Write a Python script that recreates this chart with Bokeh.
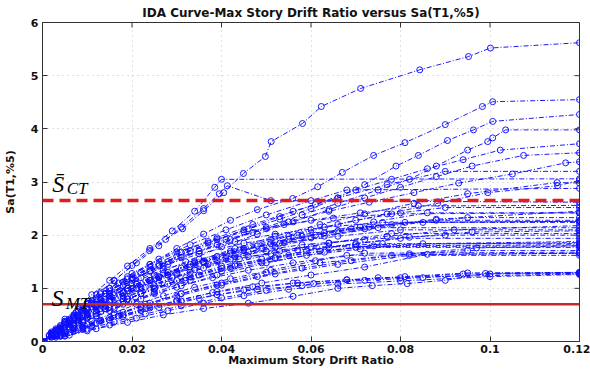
import math
from bokeh.plotting import figure
from bokeh.models import Span, Label, FixedTicker, Range1d, ColumnDataSource
from bokeh.embed import file_html
from bokeh.resources import INLINE

title_text = "IDA Curve-Max Story Drift Ratio versus Sa(T1,%5)"
x_label = "Maximum Story Drift Ratio"
y_label = "Sa(T1,%5)"
x_min, x_max = 0, 0.12
y_min, y_max = 0, 6
x_ticks = [0, 0.02, 0.04, 0.06, 0.08, 0.1, 0.12]
x_tick_labels = ["0", "0.02", "0.04", "0.06", "0.08", "0.1", "0.12"]
y_ticks = [0, 1, 2, 3, 4, 5, 6]
s_ct = 2.65
s_mt = 0.70

# IDA curves: max story drift ratio (x) vs Sa(T1,5%) (y), one pair per record
drift_a = [0, 0.002, 0.004, 0.007, 0.010, 0.013, 0.016, 0.020, 0.0239, 0.0275, 0.0313, 0.036, 0.0405, 0.0449, 0.0498, 0.0511, 0.0581, 0.0623, 0.0711, 0.0843, 0.0952, 0.1001, 0.12]
sa_a = [0, 0.15, 0.30, 0.50, 0.72, 0.93, 1.14, 1.43, 1.71, 1.92, 2.12, 2.46, 2.80, 3.16, 3.48, 3.76, 4.10, 4.42, 4.76, 5.11, 5.36, 5.52, 5.62]
drift_b = [0, 0.003, 0.006, 0.010, 0.014, 0.019, 0.024, 0.030, 0.036, 0.042, 0.048, 0.0559, 0.0615, 0.067, 0.074, 0.081, 0.090, 0.0983, 0.1006, 0.12]
sa_b = [0, 0.20, 0.40, 0.65, 0.90, 1.18, 1.45, 1.75, 2.02, 2.28, 2.48, 2.69, 2.91, 3.18, 3.50, 3.74, 4.08, 4.42, 4.51, 4.55]
drift_c = [0, 0.003, 0.006, 0.010, 0.015, 0.020, 0.026, 0.032, 0.039, 0.046, 0.053, 0.060, 0.066, 0.072, 0.079, 0.084, 0.0905, 0.0963, 0.1006, 0.12]
sa_c = [0, 0.20, 0.38, 0.62, 0.90, 1.15, 1.42, 1.68, 1.92, 2.12, 2.30, 2.50, 2.70, 2.95, 3.30, 3.50, 3.78, 3.98, 4.14, 4.27]
drift_d = [0, 0.003, 0.007, 0.011, 0.016, 0.022, 0.028, 0.035, 0.042, 0.050, 0.058, 0.066, 0.075, 0.082, 0.088, 0.095, 0.0995, 0.1006, 0.1035, 0.12]
sa_d = [0, 0.20, 0.42, 0.65, 0.92, 1.20, 1.45, 1.70, 1.92, 2.15, 2.38, 2.60, 2.85, 3.05, 3.30, 3.60, 3.76, 3.83, 3.98, 3.98]
drift_e = [0, 0.004, 0.008, 0.013, 0.018, 0.024, 0.030, 0.037, 0.045, 0.053, 0.061, 0.070, 0.078, 0.086, 0.094, 0.1023, 0.12]
sa_e = [0, 0.25, 0.50, 0.78, 1.05, 1.33, 1.60, 1.85, 2.10, 2.35, 2.58, 2.85, 3.05, 3.25, 3.42, 3.60, 3.72]
drift_f = [0, 0.004, 0.008, 0.013, 0.019, 0.025, 0.032, 0.040, 0.048, 0.056, 0.064, 0.072, 0.080, 0.088, 0.096, 0.1075, 0.12]
sa_f = [0, 0.22, 0.45, 0.72, 1.00, 1.25, 1.50, 1.78, 2.02, 2.25, 2.48, 2.70, 2.90, 3.10, 3.30, 3.50, 3.55]
drift_g = [0, 0.003, 0.007, 0.012, 0.018, 0.024, 0.031, 0.039, 0.047, 0.055, 0.064, 0.073, 0.083, 0.093, 0.105, 0.1169, 0.12]
sa_g = [0, 0.20, 0.45, 0.75, 1.05, 1.32, 1.58, 1.82, 2.05, 2.25, 2.45, 2.62, 2.80, 2.98, 3.15, 3.36, 3.38]
drift_h = [0, 0.004, 0.009, 0.015, 0.021, 0.028, 0.036, 0.045, 0.055, 0.066, 0.077, 0.0883, 0.0995, 0.1151, 0.12]
sa_h = [0, 0.22, 0.48, 0.75, 1.00, 1.25, 1.50, 1.75, 1.98, 2.20, 2.40, 2.60, 2.80, 2.93, 3.03]
drift_i = [0, 0.002, 0.005, 0.008, 0.011, 0.015, 0.019, 0.024, 0.029, 0.034, 0.0385, 0.040, 0.12]
sa_i = [0, 0.18, 0.42, 0.65, 0.88, 1.15, 1.42, 1.75, 2.08, 2.45, 2.90, 3.05, 3.06]
drift_j = [0, 0.004, 0.008, 0.013, 0.019, 0.026, 0.034, 0.043, 0.052, 0.062, 0.072, 0.083, 0.095, 0.115, 0.12]
sa_j = [0, 0.20, 0.42, 0.68, 0.95, 1.22, 1.50, 1.75, 1.98, 2.20, 2.40, 2.60, 2.78, 2.99, 2.98]
drift_k = [0, 0.002, 0.005, 0.008, 0.012, 0.016, 0.021, 0.026, 0.031, 0.036, 0.0395, 0.0413, 0.051, 0.12]
sa_k = [0, 0.16, 0.38, 0.60, 0.88, 1.15, 1.48, 1.80, 2.15, 2.50, 2.78, 2.93, 2.65, 2.62]
drift_l = [0, 0.003, 0.007, 0.012, 0.018, 0.025, 0.033, 0.042, 0.051, 0.060, 0.070, 0.080, 0.090, 0.12]
sa_l = [0, 0.18, 0.40, 0.66, 0.92, 1.18, 1.45, 1.70, 1.92, 2.10, 2.28, 2.42, 2.52, 2.52]
drift_m = [0, 0.004, 0.008, 0.013, 0.019, 0.026, 0.034, 0.043, 0.053, 0.063, 0.074, 0.086, 0.12]
sa_m = [0, 0.20, 0.40, 0.62, 0.85, 1.10, 1.35, 1.60, 1.85, 2.05, 2.25, 2.42, 2.42]
drift_n = [0, 0.003, 0.006, 0.010, 0.015, 0.021, 0.028, 0.036, 0.045, 0.055, 0.066, 0.078, 0.095, 0.12]
sa_n = [0, 0.15, 0.32, 0.52, 0.75, 1.00, 1.25, 1.50, 1.72, 1.92, 2.08, 2.20, 2.33, 2.33]
drift_o = [0, 0.004, 0.009, 0.015, 0.022, 0.030, 0.039, 0.049, 0.060, 0.072, 0.085, 0.12]
sa_o = [0, 0.22, 0.48, 0.75, 1.02, 1.28, 1.52, 1.75, 1.95, 2.12, 2.24, 2.24]
drift_p = [0, 0.003, 0.007, 0.012, 0.018, 0.025, 0.033, 0.042, 0.052, 0.063, 0.075, 0.12]
sa_p = [0, 0.14, 0.32, 0.55, 0.80, 1.05, 1.30, 1.55, 1.78, 1.98, 2.14, 2.14]
drift_q = [0, 0.004, 0.009, 0.015, 0.022, 0.030, 0.040, 0.051, 0.064, 0.078, 0.12]
sa_q = [0, 0.18, 0.40, 0.65, 0.90, 1.15, 1.42, 1.65, 1.85, 2.03, 2.03]
drift_r = [0, 0.003, 0.007, 0.012, 0.018, 0.025, 0.033, 0.042, 0.052, 0.064, 0.080, 0.12]
sa_r = [0, 0.12, 0.28, 0.48, 0.70, 0.92, 1.15, 1.38, 1.58, 1.78, 1.94, 1.94]
drift_s = [0, 0.004, 0.009, 0.015, 0.022, 0.030, 0.039, 0.050, 0.063, 0.076, 0.12]
sa_s = [0, 0.16, 0.36, 0.58, 0.80, 1.02, 1.25, 1.48, 1.68, 1.84, 1.84]
drift_t = [0, 0.003, 0.007, 0.012, 0.018, 0.025, 0.033, 0.043, 0.055, 0.070, 0.12]
sa_t = [0, 0.14, 0.30, 0.52, 0.76, 1.00, 1.22, 1.45, 1.62, 1.77, 1.77]
drift_u = [0, 0.005, 0.010, 0.016, 0.023, 0.031, 0.040, 0.050, 0.062, 0.078, 0.095, 0.12]
sa_u = [0, 0.15, 0.32, 0.50, 0.70, 0.90, 1.10, 1.30, 1.48, 1.62, 1.71, 1.71]
drift_v = [0, 0.004, 0.009, 0.015, 0.022, 0.030, 0.040, 0.052, 0.066, 0.082, 0.12]
sa_v = [0, 0.12, 0.27, 0.45, 0.65, 0.85, 1.06, 1.27, 1.45, 1.62, 1.62]
drift_w = [0, 0.002, 0.005, 0.009, 0.014, 0.020, 0.027, 0.035, 0.044, 0.054, 0.066, 0.080, 0.12]
sa_w = [0, 0.14, 0.33, 0.58, 0.85, 1.10, 1.35, 1.55, 1.72, 1.86, 1.98, 2.10, 2.10]
drift_x = [0, 0.003, 0.006, 0.010, 0.015, 0.021, 0.028, 0.036, 0.046, 0.058, 0.072, 0.090, 0.12]
sa_x = [0, 0.20, 0.40, 0.62, 0.86, 1.08, 1.30, 1.50, 1.68, 1.82, 1.92, 2.00, 2.00]
drift_y = [0, 0.002, 0.005, 0.009, 0.014, 0.020, 0.027, 0.035, 0.045, 0.057, 0.071, 0.088, 0.12]
sa_y = [0, 0.15, 0.36, 0.62, 0.90, 1.18, 1.42, 1.65, 1.85, 2.00, 2.15, 2.28, 2.28]
drift_z = [0, 0.006, 0.012, 0.019, 0.027, 0.036, 0.046, 0.056, 0.066, 0.0737, 0.0815, 0.090, 0.099, 0.12]
sa_z = [0, 0.12, 0.24, 0.36, 0.50, 0.62, 0.72, 0.85, 1.00, 1.05, 1.09, 1.15, 1.28, 1.30]
drift_aa = [0, 0.005, 0.010, 0.016, 0.023, 0.031, 0.040, 0.050, 0.0606, 0.072, 0.085, 0.100, 0.12]
sa_aa = [0, 0.11, 0.23, 0.37, 0.52, 0.67, 0.82, 0.96, 1.09, 1.15, 1.20, 1.27, 1.28]
drift_bb = [0, 0.005, 0.011, 0.018, 0.026, 0.035, 0.045, 0.056, 0.068, 0.081, 0.095, 0.12]
sa_bb = [0, 0.14, 0.30, 0.47, 0.64, 0.81, 0.97, 1.10, 1.16, 1.22, 1.29, 1.30]
drift_cc = [0, 0.004, 0.009, 0.015, 0.022, 0.030, 0.039, 0.049, 0.060, 0.072, 0.086, 0.12]
sa_cc = [0, 0.10, 0.23, 0.40, 0.58, 0.76, 0.94, 1.10, 1.25, 1.40, 1.64, 1.66]
drift_dd = [0, 0.003, 0.007, 0.012, 0.018, 0.024, 0.031, 0.039, 0.047, 0.056, 0.066, 0.077, 0.090, 0.12]
sa_dd = [0, 0.22, 0.48, 0.80, 1.12, 1.40, 1.68, 1.95, 2.20, 2.45, 2.70, 2.95, 3.20, 3.20]
drift_ee = [0, 0.003, 0.006, 0.010, 0.015, 0.020, 0.026, 0.033, 0.041, 0.050, 0.060, 0.068, 0.12]
sa_ee = [0, 0.20, 0.42, 0.70, 1.00, 1.28, 1.55, 1.82, 2.10, 2.38, 2.65, 2.85, 2.88]
drift_ff = [0, 0.002, 0.004, 0.007, 0.010, 0.014, 0.018, 0.023, 0.029, 0.036, 0.044, 0.053, 0.064, 0.077, 0.092, 0.12]
sa_ff = [0, 0.10, 0.20, 0.35, 0.50, 0.68, 0.85, 1.02, 1.20, 1.38, 1.55, 1.70, 1.85, 1.98, 2.10, 2.18]
drift_gg = [0, 0.003, 0.006, 0.009, 0.013, 0.017, 0.022, 0.028, 0.035, 0.043, 0.052, 0.062, 0.074, 0.12]
sa_gg = [0, 0.12, 0.25, 0.40, 0.56, 0.72, 0.90, 1.08, 1.25, 1.42, 1.56, 1.70, 1.80, 1.82]
drift_hh = [0, 0.002, 0.005, 0.008, 0.012, 0.016, 0.021, 0.027, 0.034, 0.042, 0.051, 0.061, 0.073, 0.088, 0.12]
sa_hh = [0, 0.13, 0.30, 0.48, 0.68, 0.88, 1.08, 1.28, 1.48, 1.66, 1.84, 2.00, 2.15, 2.30, 2.45]
drift_ii = [0, 0.003, 0.007, 0.011, 0.016, 0.021, 0.027, 0.034, 0.042, 0.051, 0.061, 0.072, 0.12]
sa_ii = [0, 0.10, 0.24, 0.38, 0.54, 0.70, 0.86, 1.02, 1.18, 1.34, 1.52, 1.66, 1.68]
drift_jj = [0, 0.004, 0.008, 0.012, 0.017, 0.023, 0.030, 0.038, 0.047, 0.057, 0.068, 0.080, 0.094, 0.12]
sa_jj = [0, 0.10, 0.22, 0.34, 0.48, 0.62, 0.77, 0.92, 1.03, 1.10, 1.16, 1.20, 1.27, 1.29]
drift_kk = [0, 0.002, 0.004, 0.007, 0.011, 0.015, 0.020, 0.026, 0.033, 0.041, 0.050, 0.060, 0.071, 0.084, 0.12]
sa_kk = [0, 0.14, 0.28, 0.48, 0.72, 0.95, 1.20, 1.45, 1.70, 1.92, 2.12, 2.28, 2.42, 2.55, 2.56]
drift_ll = [0, 0.003, 0.006, 0.010, 0.014, 0.019, 0.025, 0.032, 0.040, 0.049, 0.059, 0.070, 0.082, 0.096, 0.12]
sa_ll = [0, 0.13, 0.27, 0.44, 0.62, 0.80, 1.00, 1.20, 1.38, 1.55, 1.70, 1.84, 1.96, 2.06, 2.08]
drift_mm = [0, 0.005, 0.010, 0.015, 0.021, 0.028, 0.036, 0.045, 0.055, 0.066, 0.080, 0.100, 0.12]
sa_mm = [0, 0.10, 0.20, 0.31, 0.44, 0.58, 0.72, 0.86, 0.98, 1.08, 1.14, 1.22, 1.26]
drift_nn = [0, 0.002, 0.005, 0.008, 0.011, 0.015, 0.019, 0.024, 0.030, 0.037, 0.045, 0.054, 0.065, 0.078, 0.12]
sa_nn = [0, 0.15, 0.35, 0.56, 0.76, 1.00, 1.22, 1.45, 1.68, 1.88, 2.06, 2.20, 2.32, 2.40, 2.42]
drift_oo = [0, 0.003, 0.006, 0.010, 0.015, 0.020, 0.026, 0.033, 0.041, 0.050, 0.060, 0.12]
sa_oo = [0, 0.16, 0.33, 0.54, 0.78, 1.00, 1.20, 1.40, 1.56, 1.70, 1.78, 1.80]
drift_pp = [0, 0.004, 0.008, 0.013, 0.018, 0.024, 0.031, 0.039, 0.048, 0.058, 0.069, 0.082, 0.097, 0.12]
sa_pp = [0, 0.12, 0.25, 0.40, 0.55, 0.72, 0.90, 1.06, 1.22, 1.38, 1.52, 1.65, 1.76, 1.80]
drift_qq = [0, 0.002, 0.005, 0.009, 0.013, 0.018, 0.024, 0.031, 0.039, 0.048, 0.058, 0.069, 0.081, 0.12]
sa_qq = [0, 0.12, 0.28, 0.50, 0.70, 0.92, 1.15, 1.38, 1.60, 1.80, 1.98, 2.12, 2.24, 2.26]
drift_rr = [0, 0.0015, 0.003, 0.005, 0.007, 0.009, 0.012, 0.015, 0.019, 0.024, 0.030, 0.037, 0.046, 0.057, 0.070, 0.12]
sa_rr = [0, 0.10, 0.20, 0.32, 0.44, 0.55, 0.70, 0.85, 1.00, 1.15, 1.30, 1.45, 1.60, 1.72, 1.82, 1.86]
drift_ss = [0, 0.002, 0.004, 0.006, 0.009, 0.012, 0.016, 0.020, 0.025, 0.031, 0.038, 0.046, 0.056, 0.068, 0.12]
sa_ss = [0, 0.08, 0.16, 0.25, 0.36, 0.48, 0.62, 0.75, 0.90, 1.05, 1.20, 1.34, 1.48, 1.62, 1.66]
drift_tt = [0, 0.0015, 0.003, 0.005, 0.0075, 0.010, 0.013, 0.017, 0.022, 0.028, 0.035, 0.043, 0.052, 0.063, 0.076, 0.12]
sa_tt = [0, 0.12, 0.24, 0.38, 0.55, 0.72, 0.90, 1.10, 1.30, 1.50, 1.70, 1.88, 2.02, 2.15, 2.24, 2.26]
drift_uu = [0, 0.003, 0.006, 0.009, 0.013, 0.018, 0.024, 0.031, 0.039, 0.048, 0.058, 0.075, 0.12]
sa_uu = [0, 0.08, 0.17, 0.27, 0.38, 0.50, 0.63, 0.76, 0.88, 0.98, 1.05, 1.20, 1.27]
drift_vv = [0, 0.002, 0.004, 0.007, 0.010, 0.014, 0.019, 0.025, 0.032, 0.040, 0.049, 0.059, 0.071, 0.085, 0.12]
sa_vv = [0, 0.09, 0.18, 0.32, 0.46, 0.62, 0.80, 0.98, 1.15, 1.32, 1.48, 1.62, 1.74, 1.84, 1.88]

curves = [
    (drift_a, sa_a), (drift_b, sa_b), (drift_c, sa_c), (drift_d, sa_d), (drift_e, sa_e),
    (drift_f, sa_f), (drift_g, sa_g), (drift_h, sa_h), (drift_i, sa_i), (drift_j, sa_j),
    (drift_k, sa_k), (drift_l, sa_l), (drift_m, sa_m), (drift_n, sa_n), (drift_o, sa_o),
    (drift_p, sa_p), (drift_q, sa_q), (drift_r, sa_r), (drift_s, sa_s), (drift_t, sa_t),
    (drift_u, sa_u), (drift_v, sa_v), (drift_w, sa_w), (drift_x, sa_x), (drift_y, sa_y),
    (drift_z, sa_z), (drift_aa, sa_aa), (drift_bb, sa_bb), (drift_cc, sa_cc),
    (drift_dd, sa_dd), (drift_ee, sa_ee), (drift_ff, sa_ff), (drift_gg, sa_gg),
    (drift_hh, sa_hh), (drift_ii, sa_ii), (drift_jj, sa_jj), (drift_kk, sa_kk),
    (drift_ll, sa_ll), (drift_mm, sa_mm), (drift_nn, sa_nn), (drift_oo, sa_oo),
    (drift_pp, sa_pp), (drift_qq, sa_qq), (drift_rr, sa_rr), (drift_ss, sa_ss),
    (drift_tt, sa_tt), (drift_uu, sa_uu), (drift_vv, sa_vv),
]

FONT = "DejaVu Sans"
BLUE = "#0f0fff"
AXIS = "#333333"

p = figure(width=590, height=373, output_backend="svg", toolbar_location=None,
           x_range=Range1d(x_min, x_max), y_range=Range1d(y_min, y_max),
           min_border_left=42, min_border_right=11, min_border_top=22, min_border_bottom=32)
p.background_fill_color = "white"
p.border_fill_color = "white"
p.outline_line_color = AXIS
p.outline_line_width = 1

p.title.text = title_text
p.title.align = "center"
p.title.text_font = FONT
p.title.text_font_size = "12px"
p.title.text_font_style = "bold"
p.title.text_color = "#111111"
p.title.standoff = 5

line_src = ColumnDataSource(dict(xs=[c[0] for c in curves], ys=[c[1] for c in curves]))
p.multi_line("xs", "ys", source=line_src, line_color=BLUE, line_width=1.0,
             line_dash="5 2 1 2", line_alpha=0.95)
pt_x = [x for c in curves for x in c[0]]
pt_y = [y for c in curves for y in c[1]]
p.scatter(pt_x, pt_y, marker="circle", size=6, fill_color=None,
          line_color=BLUE, line_width=1.0, line_alpha=0.95)

p.add_layout(Span(location=s_ct, dimension="width", line_color="#e41a1c",
                  line_width=3.5, line_dash="11 6"))
p.add_layout(Span(location=s_mt, dimension="width", line_color="#c62828",
                  line_width=2.5))

for txt, xx, yy, size in [("S\u0304", 0.0022, 2.97, "24px"), ("CT", 0.0054, 2.87, "17px"),
                          ("S", 0.0020, 0.81, "24px"), ("MT", 0.0052, 0.72, "17px")]:
    p.add_layout(Label(x=xx, y=yy, text=txt, text_font="Liberation Serif",
                       text_font_style="italic", text_font_size=size,
                       text_color="black", text_baseline="alphabetic"))

# inward tick marks on the top and right edges of the box (half clipped by the frame)
p.scatter(x_ticks, [y_max] * len(x_ticks), marker="dash", size=10, angle=math.pi / 2,
          line_color=AXIS, line_width=1)
p.scatter([x_max] * len(y_ticks), y_ticks, marker="dash", size=10, angle=0,
          line_color=AXIS, line_width=1)

xa = p.xaxis[0]
xa.ticker = FixedTicker(ticks=x_ticks)
xa.major_label_overrides = dict(zip(x_ticks, x_tick_labels))
xa.axis_label = x_label
xa.major_label_standoff = 3
xa.axis_label_standoff = -2

ya = p.yaxis[0]
ya.ticker = FixedTicker(ticks=y_ticks)
ya.axis_label = y_label
ya.major_label_standoff = 4
ya.axis_label_standoff = 11

for ax in (xa, ya):
    ax.major_tick_in = 5
    ax.major_tick_out = 0
    ax.minor_tick_in = 0
    ax.minor_tick_out = 0
    ax.axis_line_color = AXIS
    ax.major_tick_line_color = AXIS
    ax.major_label_text_font = FONT
    ax.major_label_text_font_size = "11px"
    ax.major_label_text_font_style = "bold"
    ax.major_label_text_color = "#111111"
    ax.axis_label_text_font = FONT
    ax.axis_label_text_font_size = "11px"
    ax.axis_label_text_font_style = "bold"
    ax.axis_label_text_color = "#111111"

p.xgrid.ticker = FixedTicker(ticks=x_ticks)
p.ygrid.ticker = FixedTicker(ticks=y_ticks)
p.grid.grid_line_color = "#c0c0c0"
p.grid.grid_line_dash = "1 4"
p.grid.grid_line_width = 1

open("out.html", "w").write(file_html(p, INLINE))
